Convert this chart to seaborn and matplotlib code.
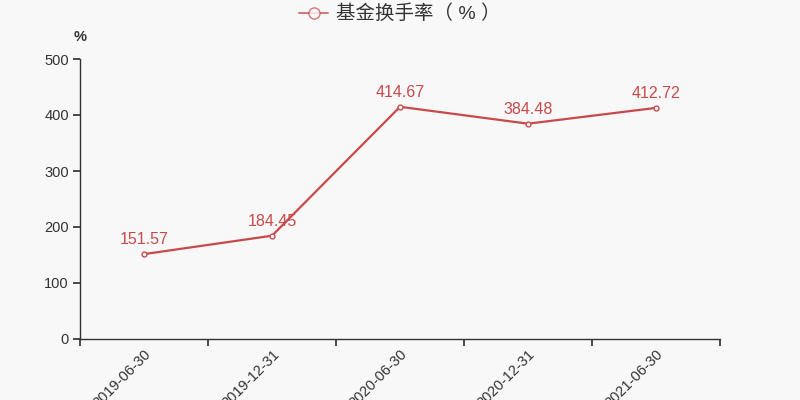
import matplotlib
matplotlib.use("Agg")
import matplotlib.pyplot as plt
import seaborn as sns
import pandas as pd
from matplotlib.lines import Line2D

dates = ["2019-06-30", "2019-12-31", "2020-06-30", "2020-12-31", "2021-06-30"]
turnover = [151.57, 184.45, 414.67, 384.48, 412.72]
series_name = "基金换手率（ % ）"
y_ticks = [0, 100, 200, 300, 400, 500]

sns.set_theme(style="white")
plt.rcParams['font.family'] = ['Liberation Sans', 'Noto Sans CJK SC', 'DejaVu Sans']

bg = "#f8f8f8"
red = "#c9494a"
axc = "#333333"

fig = plt.figure(figsize=(8, 4), dpi=100, facecolor=bg)
ax = fig.add_axes([0.1, 0.1525, 0.8, 0.7])
ax.set_facecolor(bg)

df = pd.DataFrame({"pos": list(range(len(dates))), "val": turnover})
sns.lineplot(data=df, x="pos", y="val", ax=ax, color=red, linewidth=1.6,
             marker="o", markersize=3.5, markerfacecolor="white",
             markeredgecolor=red, markeredgewidth=1)

for i, v in enumerate(turnover):
    ax.annotate(f"{v:.2f}", (i, v), xytext=(0, 5), textcoords="offset points",
                ha="center", va="bottom", fontsize=11.5, color=red)

ax.set_xlim(-0.5, len(dates) - 0.5)
ax.set_ylim(0, 500)
ax.set_yticks(y_ticks)
ax.set_yticklabels([str(t) for t in y_ticks], fontsize=10.5, color=axc)

ax.set_xticks([i - 0.5 for i in range(len(dates) + 1)])
ax.set_xticklabels([])
ax.set_xticks(list(range(len(dates))), minor=True)
ax.set_xticklabels(dates, minor=True, rotation=45, ha="right", va="top",
                   rotation_mode="anchor", fontsize=10.5, color=axc)
ax.tick_params(axis="x", which="major", length=5, color=axc, direction="out", bottom=True)
ax.tick_params(axis="x", which="minor", length=0, pad=6, bottom=True)
ax.tick_params(axis="y", length=5, color=axc, direction="out", left=True, pad=3)

for s in ["top", "right"]:
    ax.spines[s].set_visible(False)
for s in ["left", "bottom"]:
    ax.spines[s].set_color(axc)
    ax.spines[s].set_linewidth(1)
ax.grid(False)
ax.set_xlabel("")
ax.set_ylabel("")

fig.text(80 / 800, 1 - 37 / 400, "%", ha="center", va="center", fontsize=10.5,
         color=axc, fontweight="bold")

handle = Line2D([0], [0], color=red, linewidth=1.4, marker="o", markersize=8,
                markerfacecolor="white", markeredgecolor=red, alpha=0.75)
fig.legend([handle], [series_name], loc="center", bbox_to_anchor=(0.5, 1 - 14 / 400),
           frameon=False, fontsize=14, handlelength=1.5, handletextpad=0.4,
           labelcolor=axc)

fig.savefig("out.png", dpi=100, facecolor=bg)
